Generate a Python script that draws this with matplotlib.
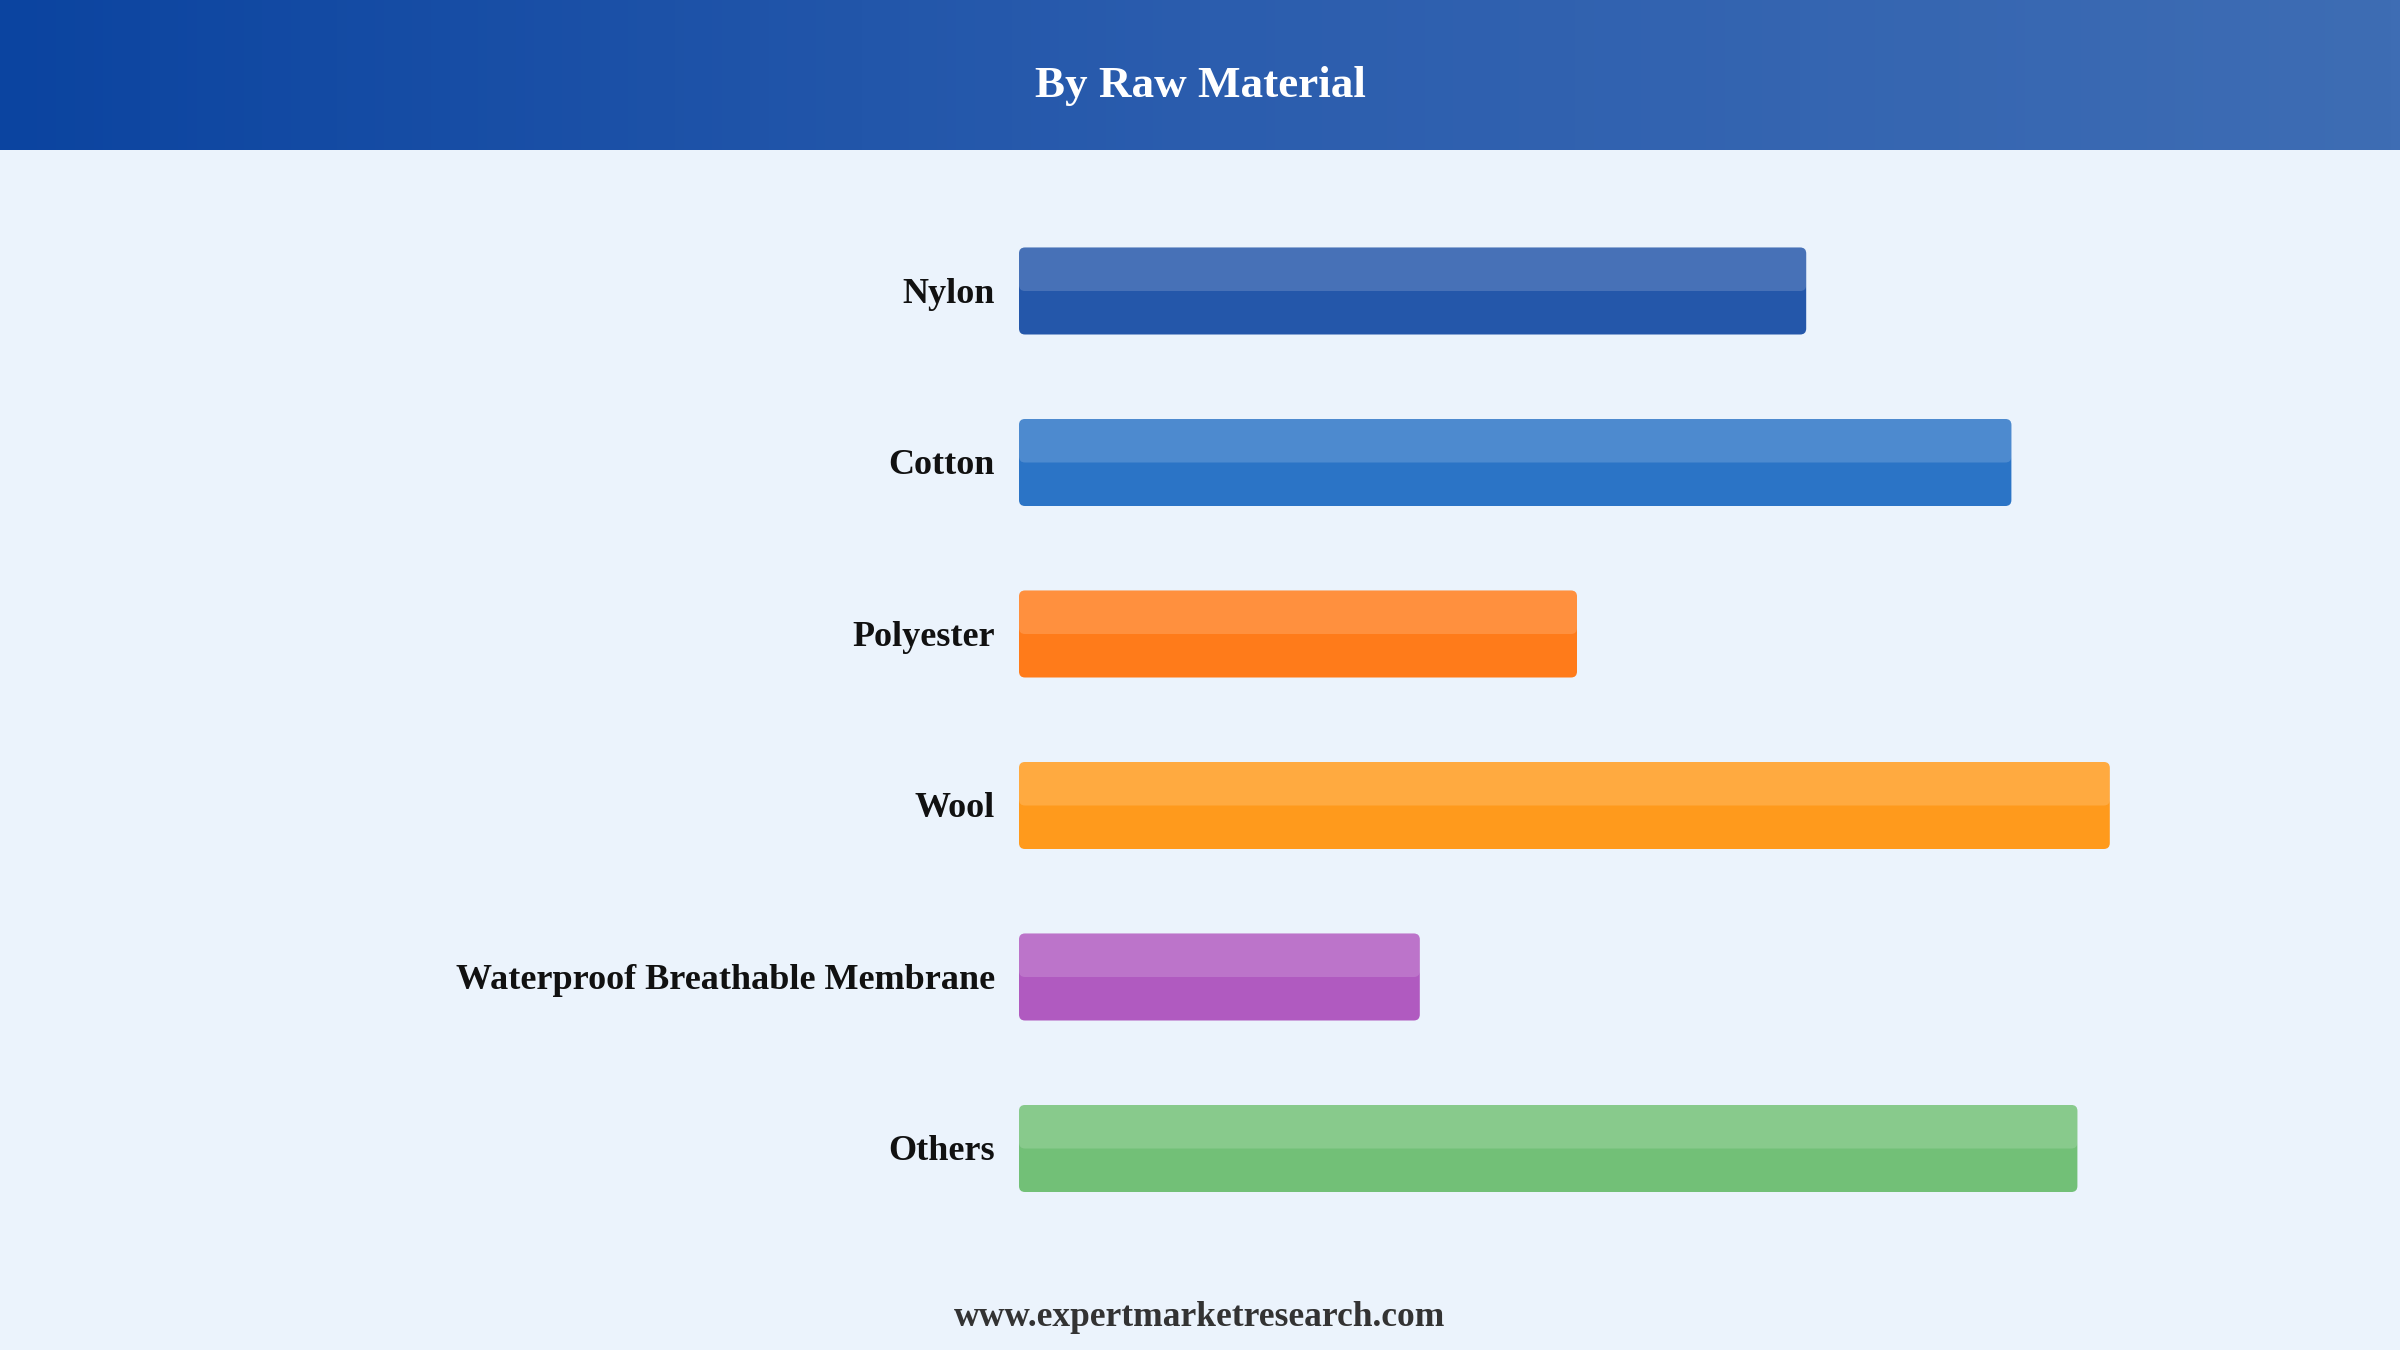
import numpy as np
import matplotlib
matplotlib.use("Agg")
import matplotlib.pyplot as plt
from matplotlib.colors import LinearSegmentedColormap
from matplotlib.patches import FancyBboxPatch

categories = ["Nylon", "Cotton", "Polyester", "Wool",
              "Waterproof Breathable Membrane", "Others"]
values = [65.6, 82.7, 46.5, 90.9, 33.4, 88.2]
colors = ["#2457AA", "#2B74C6", "#FF7B1A", "#FF9A1C", "#B05AC0", "#72C077"]

title = "By Raw Material"
source = "www.expertmarketresearch.com"

plt.rcParams['font.family'] = ['Liberation Serif', 'DejaVu Serif']

W, H = 2400, 1350
fig = plt.figure(figsize=(24, 13.5), dpi=100)
fig.patch.set_facecolor("#EBF3FC")

# header band with horizontal gradient
hdr = fig.add_axes([0, 1 - 150 / H, 1, 150 / H])
cmap = LinearSegmentedColormap.from_list("hdr", ["#0B44A0", "#2B5DAE", "#3E6DB4"])
hdr.imshow(np.linspace(0, 1, 256).reshape(1, -1), aspect="auto", cmap=cmap,
           extent=[0, 1, 0, 1])
hdr.set_xlim(0, 1)
hdr.set_ylim(0, 1)
hdr.axis("off")
hdr.text(0.5, 0.43, title, ha="center", va="center", color="white",
         fontsize=32.5, fontweight="bold")

# bar area: x 1019..2219 px, rows spaced 171.5 px starting at 291
row = 171.5
top_c = 291
y0 = top_c - row / 2
ax = fig.add_axes([1019 / W, 1 - (y0 + row * 6) / H, 1200 / W, row * 6 / H])
ax.set_facecolor("none")
ax.set_xlim(0, 100)
ax.set_ylim(5.5, -0.5)
ax.axis("off")

bh = 87 / row
ypos = np.arange(len(categories))
bars = ax.barh(ypos, values, height=bh, color=colors)
px_x = 1200 / 100
r = 6 / px_x
asp = (6 / row) / r
for b, c in zip(bars, colors):
    b.set_visible(False)
    x, y, w, h = b.get_x(), b.get_y(), b.get_width(), b.get_height()
    ax.add_patch(FancyBboxPatch((x, y), w, h,
                                boxstyle=f"round,pad=0,rounding_size={r}",
                                mutation_aspect=asp, facecolor=c,
                                edgecolor="none"))
    # lighter top half
    ax.add_patch(FancyBboxPatch((x, y), w, h / 2,
                                boxstyle=f"round,pad=0,rounding_size={r}",
                                mutation_aspect=asp, facecolor="white",
                                alpha=0.16, edgecolor="none"))

for yi, name in zip(ypos, categories):
    ax.text(-2.0, yi + 0.018, name, ha="right", va="center", fontsize=26,
            fontweight="bold", color="#111111")

fig.text(0.5, 1 - 1317 / H, source, ha="center", va="center",
         fontsize=25.5, fontweight="bold", color="#333333")

fig.savefig("out.png", dpi=100, facecolor=fig.get_facecolor())
